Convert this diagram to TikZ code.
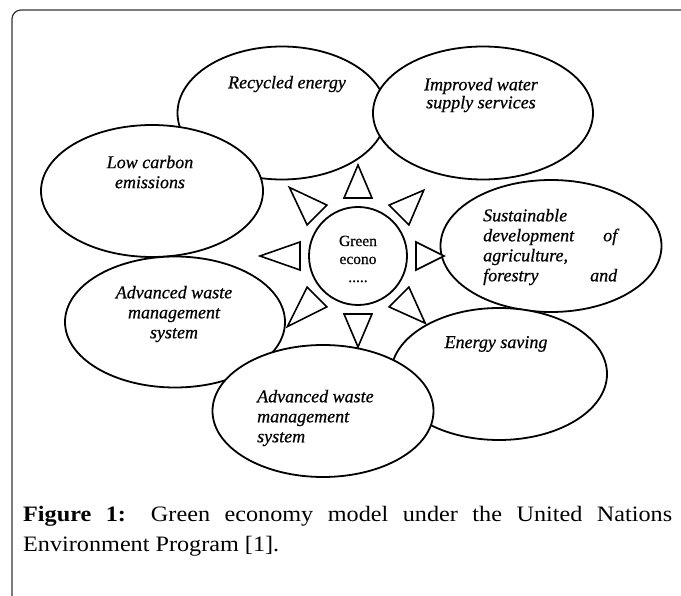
\documentclass[tikz,border=0pt]{standalone}
\usepackage{fontspec}
\setmainfont{Liberation Serif}
\newfontfamily\capfont[FakeStretch=1.1]{Liberation Serif}
\newfontfamily\bubfont[FakeBold=0.6]{Liberation Serif}
\usetikzlibrary{shapes.geometric}
\tikzset{
  bubble/.style={ellipse, draw=black, line width=1.8pt, fill=white, inner sep=0pt},
  ray/.style={draw=black, line width=1.6pt, fill=white, line join=miter},
  txt/.style={inner sep=0pt, font=\bubfont\fontsize{18}{20}\selectfont\itshape},
  frame/.style={draw=black!80, line width=1.2pt, rounded corners=9pt}
}
\begin{document}
\begin{tikzpicture}[x=1pt,y=-1pt]
\useasboundingbox (0,0) rectangle (681,596);
% frame
\coordinate (f1) at (12,597);
\coordinate (fc) at (12,10);
\coordinate (f2) at (682,10);
\draw[frame] (f1) -- (fc) -- (f2);
% ellipses
\node[bubble, minimum width=209pt, minimum height=133pt] (rec) at (282,113) {};
\node[bubble, minimum width=220pt, minimum height=133pt] (wat) at (483,113) {};
\node[bubble, minimum width=222pt, minimum height=132pt] (low) at (152,191) {};
\node[bubble, minimum width=221pt, minimum height=132pt] (sus) at (551,246) {};
\node[bubble, minimum width=216pt, minimum height=132pt] (ene) at (499,374) {};
\node[bubble, minimum width=220pt, minimum height=131pt] (advl) at (175,322) {};
\node[bubble, minimum width=221pt, minimum height=132pt] (advb) at (323,411) {};
\node[bubble, circle, minimum size=98pt] (ctr) at (358,256) {};
% rays
\foreach \a/\r in {0/86,45/93,90/91,135/97,180/98,225/100,270/91,315/95}{
  \begin{scope}[shift={(ctr.center)}, rotate=\a]
    \draw[ray] (58,-14) -- (\r,0) -- (58,14) -- cycle;
  \end{scope}
}
% texts
\node[txt] (trec) at (287,84) {Recycled energy};
\node[txt, align=center, font=\bubfont\fontsize{18}{18}\selectfont\itshape] (twat) at (481,95) {Improved water\\supply services};
\node[txt, align=center] (tlow) at (150,172) {Low carbon\\emissions};
\node[txt, align=left, anchor=west] (tsus) at (483,247) {Sustainable\\\makebox[134pt][s]{development of}\\agriculture,\\\makebox[134pt][s]{forestry and}};
\node[inner sep=0pt, align=center, font=\bubfont\fontsize{15.5}{18}\selectfont] (tctr) at (358,259) {Green\\econo\\.....};
\node[txt, align=center] (tadvl) at (174,314) {Advanced waste\\management\\system};
\node[txt] (tene) at (496,344) {Energy saving};
\node[txt, align=left, anchor=west] (tadvb) at (257,418) {Advanced waste\\management\\system};
% caption
\node[inner sep=0pt, anchor=north west, text width=649pt, align=justify,
      font=\capfont\fontsize{22}{30}\selectfont] (cap) at (23,506)
  {\textbf{Figure 1:} Green economy model under the United Nations\linebreak Environment Program [1].};
\end{tikzpicture}
\end{document}
